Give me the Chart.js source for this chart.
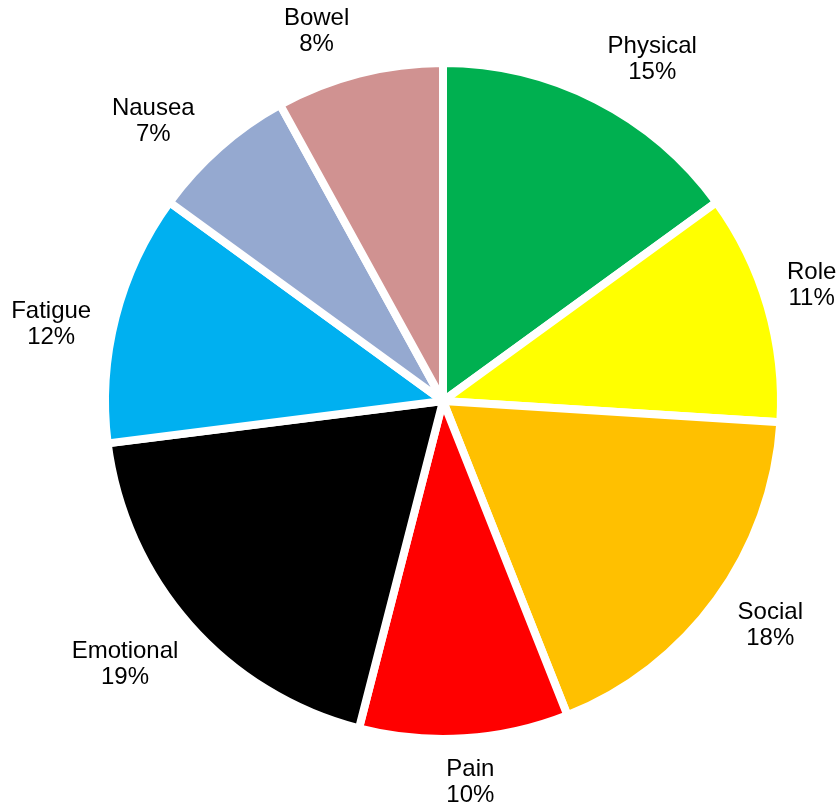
<!DOCTYPE html>
<html lang="en">
<head>
  <meta charset="UTF-8" />
  <title>Symptom share</title>
  <script src="https://cdn.jsdelivr.net/npm/chart.js"></script>
  <style>
    html, body {
      margin: 0;
      padding: 0;
      background: #ffffff;
    }
    .wrap {
      width: 840px;
      height: 803px;
    }
  </style>
</head>
<body>
  <div class="wrap"><canvas id="pieChart"></canvas></div>

  <script>
    const categories = ["Physical", "Role", "Social", "Pain", "Emotional", "Fatigue", "Nausea", "Bowel"];
    const shares = [15, 11, 18, 10, 19, 12, 7, 8];
    const sliceColors = ["#00b050", "#ffff00", "#ffc000", "#ff0000", "#000000", "#00b0f0", "#95a9d0", "#d09291"];
    // small turn (degrees) applied to each label around the pie so they don't crowd
    const labelTurn = [4.5, -1.2, -1.6, -0.5, 1.8, -3.3, -4.6, -4.5];

    // labels sit just outside each slice, name on top and percentage below
    const outsideLabels = {
      id: "outsideLabels",
      afterDatasetsDraw(chart) {
        const ctx = chart.ctx;
        const meta = chart.getDatasetMeta(0);
        const fontSize = 24;
        const lineH = 26;
        const gap = 17;
        ctx.save();
        ctx.font = fontSize + "px 'Liberation Sans', Arial, sans-serif";
        ctx.fillStyle = "#000000";
        ctx.textAlign = "center";
        ctx.textBaseline = "middle";
        meta.data.forEach((arc, i) => {
          const p = arc.getProps(["x", "y", "startAngle", "endAngle", "outerRadius"], true);
          const mid = (p.startAngle + p.endAngle) / 2 + labelTurn[i] * Math.PI / 180;
          const lines = [categories[i], shares[i] + "%"];
          const w = Math.max(...lines.map(t => ctx.measureText(t).width));
          const h = lineH * lines.length;
          const cos = Math.cos(mid), sin = Math.sin(mid);
          const ext = Math.abs(cos) * w / 2 + Math.abs(sin) * h / 2;
          const r = p.outerRadius + gap + ext;
          const cx = p.x + cos * r;
          const cy = p.y + sin * r;
          lines.forEach((t, k) => {
            ctx.fillText(t, cx, cy + (k - (lines.length - 1) / 2) * lineH);
          });
        });
        ctx.restore();
      }
    };

    new Chart(document.getElementById("pieChart"), {
      type: "pie",
      data: {
        labels: categories,
        datasets: [{
          data: shares,
          backgroundColor: sliceColors,
          borderColor: "#ffffff",
          borderWidth: 8
        }]
      },
      options: {
        responsive: true,
        maintainAspectRatio: false,
        animation: false,
        layout: {
          padding: { top: 59, bottom: 60, left: 101, right: 55 }
        },
        plugins: {
          legend: { display: false },
          tooltip: { enabled: false }
        }
      },
      plugins: [outsideLabels]
    });
  </script>
</body>
</html>
